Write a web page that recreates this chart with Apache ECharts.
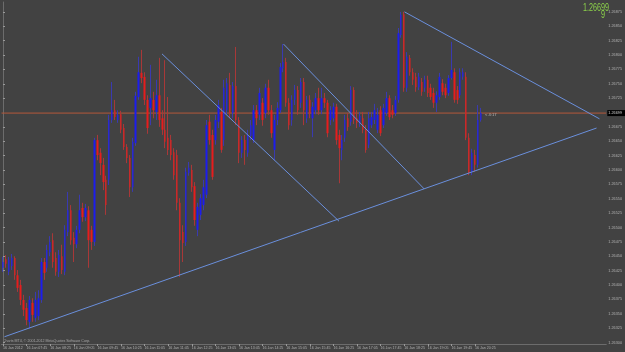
<!DOCTYPE html>
<html><head><meta charset="utf-8">
<script src="https://cdn.jsdelivr.net/npm/echarts@6/dist/echarts.min.js"></script>
<style>html,body{margin:0;padding:0;background:#424242;overflow:hidden}#c{width:625px;height:352px}</style>
</head><body><div id="c"></div>
<script>
// ---- data (M5 bars, prices) ----
const firstBarTime = [7, 5];      // 16 Jan 2012 07:05
const slotCount = 205;            // bars + chart shift slots
const xTickLabels = ['16 Jan 2012','16 Jan 07:45','16 Jan 08:25','16 Jan 09:05','16 Jan 09:45','16 Jan 10:25','16 Jan 11:05','16 Jan 11:45','16 Jan 12:25','16 Jan 13:05','16 Jan 13:45','16 Jan 14:25','16 Jan 15:05','16 Jan 15:45','16 Jan 16:25','16 Jan 17:05','16 Jan 17:45','16 Jan 18:25','16 Jan 19:05','16 Jan 19:45','16 Jan 20:25'];
const yTickLabels = ['1.26300','1.26325','1.26350','1.26375','1.26400','1.26425','1.26450','1.26475','1.26500','1.26525','1.26550','1.26575','1.26600','1.26625','1.26650','1.26675','1.26725','1.26750','1.26775','1.26800','1.26825','1.26850','1.26875'];

const open = [
1.26430,1.26445,1.26423,1.26433,1.26447,1.26417,1.26400,1.26374,1.26360,1.26336,
1.26369,1.26343,1.26346,1.26374,1.26440,1.26430,1.26457,1.26478,1.26447,1.26423,
1.26450,1.26423,1.26492,1.26530,1.26482,1.26471,1.26496,1.26534,1.26518,1.26530,
1.26496,1.26475,1.26652,1.26630,1.26609,1.26583,1.26583,1.26687,1.26704,1.26687,
1.26697,1.26673,1.26640,1.26621,1.26570,1.26647,1.26727,1.26769,1.26762,1.26722,
1.26708,1.26722,1.26701,1.26730,1.26690,1.26670,1.26656,1.26652,1.26631,1.26626,
1.26543,1.26492,1.26475,1.26595,1.26600,1.26572,1.26496,1.26522,1.26539,1.26557,
1.26684,1.26661,1.26652,1.26684,1.26701,1.26652,1.26704,1.26748,1.26699,1.26746,
1.26687,1.26630,1.26652,1.26630,1.26659,1.26652,1.26704,1.26696,1.26717,1.26699,
1.26743,1.26704,1.26635,1.26687,1.26704,1.26777,1.26788,1.26717,1.26687,1.26722,
1.26739,1.26717,1.26753,1.26690,1.26722,1.26690,1.26704,1.26725,1.26704,1.26725,
1.26717,1.26687,1.26690,1.26710,1.26661,1.26635,1.26656,1.26690,1.26684,1.26739,
1.26690,1.26682,1.26690,1.26670,1.26644,1.26678,1.26687,1.26670,1.26704,1.26678,
1.26699,1.26725,1.26704,1.26699,1.26722,1.26835,1.26871,1.26743,1.26795,1.26770,
1.26762,1.26744,1.26753,1.26743,1.26757,1.26743,1.26734,1.26717,1.26727,1.26751,
1.26743,1.26734,1.26760,1.26770,1.26739,1.26730,1.26762,1.26762,1.26656,1.26597,
1.26626,1.26609,1.26687];
const close = [
1.26440,1.26437,1.26444,1.26447,1.26417,1.26395,1.26374,1.26357,1.26339,1.26374,
1.26348,1.26374,1.26377,1.26440,1.26421,1.26461,1.26475,1.26440,1.26423,1.26452,
1.26426,1.26496,1.26530,1.26478,1.26471,1.26496,1.26530,1.26518,1.26534,1.26478,
1.26475,1.26652,1.26626,1.26612,1.26579,1.26539,1.26687,1.26704,1.26692,1.26696,
1.26670,1.26640,1.26621,1.26570,1.26649,1.26729,1.26770,1.26760,1.26722,1.26673,
1.26725,1.26704,1.26730,1.26687,1.26670,1.26649,1.26635,1.26626,1.26591,1.26543,
1.26478,1.26473,1.26597,1.26604,1.26570,1.26513,1.26536,1.26551,1.26570,1.26678,
1.26652,1.26588,1.26687,1.26713,1.26635,1.26743,1.26751,1.26699,1.26746,1.26687,
1.26630,1.26652,1.26635,1.26661,1.26678,1.26704,1.26690,1.26734,1.26687,1.26743,
1.26704,1.26664,1.26687,1.26708,1.26779,1.26788,1.26717,1.26678,1.26722,1.26739,
1.26704,1.26753,1.26704,1.26722,1.26699,1.26710,1.26725,1.26704,1.26725,1.26717,
1.26664,1.26704,1.26710,1.26652,1.26638,1.26652,1.26687,1.26675,1.26739,1.26687,
1.26682,1.26694,1.26670,1.26635,1.26690,1.26692,1.26704,1.26696,1.26664,1.26708,
1.26725,1.26692,1.26696,1.26722,1.26838,1.26870,1.26743,1.26797,1.26770,1.26757,
1.26744,1.26762,1.26736,1.26757,1.26734,1.26727,1.26717,1.26730,1.26762,1.26736,
1.26730,1.26760,1.26774,1.26722,1.26722,1.26770,1.26770,1.26656,1.26595,1.26630,
1.26609,1.26687,1.26699];
const low = [
1.26423,1.26430,1.26417,1.26426,1.26409,1.26388,1.26365,1.26346,1.26330,1.26324,
1.26336,1.26336,1.26339,1.26369,1.26409,1.26423,1.26450,1.26430,1.26416,1.26414,
1.26419,1.26417,1.26485,1.26470,1.26440,1.26464,1.26490,1.26510,1.26511,1.26430,
1.26461,1.26468,1.26617,1.26591,1.26565,1.26522,1.26574,1.26682,1.26687,1.26682,
1.26664,1.26635,1.26612,1.26553,1.26562,1.26642,1.26722,1.26751,1.26713,1.26663,
1.26678,1.26690,1.26687,1.26675,1.26661,1.26638,1.26626,1.26617,1.26583,1.26530,
1.26414,1.26440,1.26468,1.26590,1.26562,1.26503,1.26485,1.26513,1.26530,1.26551,
1.26644,1.26583,1.26644,1.26673,1.26630,1.26642,1.26696,1.26690,1.26690,1.26678,
1.26612,1.26621,1.26609,1.26623,1.26652,1.26647,1.26678,1.26687,1.26677,1.26690,
1.26696,1.26656,1.26617,1.26678,1.26699,1.26770,1.26710,1.26670,1.26677,1.26713,
1.26696,1.26708,1.26678,1.26682,1.26690,1.26657,1.26697,1.26696,1.26697,1.26708,
1.26657,1.26678,1.26684,1.26644,1.26577,1.26617,1.26649,1.26668,1.26677,1.26680,
1.26673,1.26675,1.26664,1.26630,1.26638,1.26673,1.26680,1.26664,1.26659,1.26673,
1.26694,1.26687,1.26690,1.26694,1.26717,1.26830,1.26736,1.26736,1.26764,1.26748,
1.26736,1.26739,1.26729,1.26736,1.26727,1.26722,1.26708,1.26701,1.26722,1.26730,
1.26725,1.26729,1.26757,1.26717,1.26715,1.26725,1.26757,1.26652,1.26591,1.26591,
1.26597,1.26604,1.26684];
const high = [
1.26449,1.26452,1.26449,1.26454,1.26450,1.26426,1.26409,1.26383,1.26369,1.26381,
1.26377,1.26388,1.26391,1.26447,1.26447,1.26470,1.26485,1.26490,1.26457,1.26461,
1.26470,1.26504,1.26562,1.26539,1.26492,1.26503,1.26557,1.26543,1.26541,1.26537,
1.26503,1.26656,1.26661,1.26638,1.26621,1.26590,1.26696,1.26753,1.26722,1.26704,
1.26703,1.26680,1.26645,1.26626,1.26656,1.26736,1.26797,1.26809,1.26770,1.26730,
1.26783,1.26736,1.26757,1.26795,1.26704,1.26791,1.26727,1.26661,1.26638,1.26635,
1.26551,1.26504,1.26604,1.26614,1.26609,1.26579,1.26543,1.26558,1.26583,1.26687,
1.26696,1.26670,1.26696,1.26722,1.26708,1.26757,1.26760,1.26769,1.26753,1.26814,
1.26692,1.26659,1.26661,1.26670,1.26687,1.26713,1.26713,1.26743,1.26725,1.26750,
1.26757,1.26713,1.26696,1.26718,1.26786,1.26819,1.26795,1.26725,1.26730,1.26748,
1.26746,1.26760,1.26760,1.26729,1.26730,1.26718,1.26734,1.26743,1.26743,1.26734,
1.26722,1.26711,1.26717,1.26715,1.26670,1.26661,1.26696,1.26699,1.26746,1.26744,
1.26704,1.26701,1.26701,1.26678,1.26701,1.26701,1.26715,1.26708,1.26711,1.26715,
1.26736,1.26730,1.26713,1.26729,1.26847,1.26875,1.26875,1.26805,1.26800,1.26777,
1.26769,1.26769,1.26760,1.26764,1.26764,1.26750,1.26743,1.26737,1.26769,1.26758,
1.26750,1.26765,1.26823,1.26777,1.26746,1.26777,1.26777,1.26770,1.26664,1.26637,
1.26635,1.26713,1.26708];

const bidPrice = 1.26699;
const timerText = '< 4:17';
// trend lines: [barIndex, price] endpoints
const trendRising = [[0.5, 1.26310], [201.2, 1.26673]];
const trendDown1  = [[53.9, 1.26802], [113.9, 1.26511]];
const trendDown2  = [[95.1, 1.26819], [142.8, 1.26567]];
const trendUpper  = [[136.1, 1.26875], [202.2, 1.26689]];

// ---- build ----
const categories = [];
for (let i = 0; i < slotCount; i++) {
  const m = firstBarTime[0] * 60 + firstBarTime[1] + 5 * i;
  categories.push(String(Math.floor(m / 60) % 24).padStart(2, '0') + ':' + String(m % 60).padStart(2, '0'));
}
const barCount = open.length;
const wickData = open.map((o, i) => [o, close[i], low[i], high[i]]);
const bodyData = open.map((o, i) => [o, close[i], Math.min(o, close[i]), Math.max(o, close[i])]);
const yTicks = yTickLabels.map(Number);
const showTick = (idx) => idx % 8 === 0 && idx / 8 < xTickLabels.length;

const axisTextColor = '#b0b0b0';
const lineColor = '#6a8fdc';
const trend = (d) => ({
  type: 'line', xAxisIndex: 1, data: d, symbol: 'none', silent: true,
  lineStyle: { color: lineColor, width: 1 }, z: 5
});

const chart = echarts.init(document.getElementById('c'), null, { renderer: 'canvas' });
chart.setOption({
  animation: false,
  backgroundColor: '#424242',
  grid: { left: 0, right: 14, top: 2, bottom: 8, containLabel: false },
  xAxis: [{
    type: 'category', data: categories, boundaryGap: true,
    axisLine: { show: true, lineStyle: { color: '#6c6c6c', width: 1 } },
    axisTick: { show: true, interval: showTick, alignWithLabel: true, length: 2, lineStyle: { color: '#9a9a9a' } },
    axisLabel: {
      interval: showTick, align: 'left', margin: 2, fontSize: 3.6, color: axisTextColor,
      fontFamily: 'Liberation Sans',
      formatter: (v, idx) => xTickLabels[idx / 8] || ''
    },
    splitLine: { show: false }
  }, {
    type: 'value', min: -0.5, max: slotCount - 0.5, show: false
  }],
  yAxis: {
    type: 'value', position: 'right', min: 1.262974, max: 1.268922, scale: true,
    splitLine: { show: false },
    axisLine: { show: true, lineStyle: { color: '#6c6c6c', width: 1 } },
    axisTick: { show: true, customValues: yTicks, length: 2, lineStyle: { color: '#9a9a9a' } },
    axisLabel: {
      customValues: yTicks, formatter: (v) => v.toFixed(5), margin: 2, fontSize: 3.8,
      color: axisTextColor, fontFamily: 'Liberation Sans', align: 'left'
    }
  },
  series: [{
    type: 'line', xAxisIndex: 1, silent: true, symbol: 'none', z: 1,
    data: [[-0.5, bidPrice], [slotCount - 0.5, bidPrice]],
    lineStyle: { color: '#b4583a', width: 1 },
    endLabel: {
      show: true, formatter: bidPrice.toFixed(5), distance: 1,
      backgroundColor: '#000', color: '#d0d0d0', fontSize: 3.8, padding: [1, 3, 1, 1],
      fontFamily: 'Liberation Sans'
    }
  }, {
    type: 'candlestick', data: wickData, barWidth: 1, silent: true, z: 2,
    itemStyle: { color: '#3a3ab0', color0: '#a83838', borderColor: '#3a3ab0', borderColor0: '#a83838', borderWidth: 1 },
    markPoint: {
      silent: true, symbol: 'circle', symbolSize: 0,
      label: { show: true, position: 'right', distance: 4, offset: [0, 2], formatter: timerText,
        color: '#b8b8b8', fontSize: 4.2, fontFamily: 'Liberation Sans' },
      data: [{ coord: [barCount - 1, bidPrice] }]
    }
  }, {
    type: 'candlestick', data: bodyData, barWidth: 2, silent: true, z: 3,
    itemStyle: { color: '#1c1cee', color0: '#e81c1c', borderColor: '#1c1cee', borderColor0: '#e81c1c', borderWidth: 0 }
  },
  trend(trendRising), trend(trendDown1), trend(trendDown2), trend(trendUpper)],
  graphic: [
    { type: 'text', x: 583, y: 3, scaleX: 0.72, silent: true,
      style: { text: '1.26699', fill: '#8cd24a', font: '10px "Liberation Sans"' } },
    { type: 'text', x: 601, y: 10.5, scaleX: 0.72, silent: true,
      style: { text: '9', fill: '#8cd24a', font: '10px "Liberation Sans"' } },
    { type: 'text', x: 3, y: 339, silent: true,
      style: { text: 'Charts MT4, © 2001-2012 MetaQuotes Software Corp.', fill: '#a8a8a8', font: '3.6px "Liberation Sans"' } }
  ]
});
</script>
</body></html>
